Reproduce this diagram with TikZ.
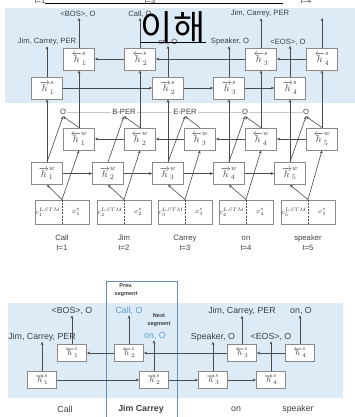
\documentclass[tikz,border=0pt]{standalone}
\usepackage{fontspec}
\setmainfont{Liberation Sans}
\newfontfamily\krfont{Noto Sans CJK KR}
\usetikzlibrary{arrows.meta}
\definecolor{bgblue}{HTML}{DDEBF7}
\definecolor{boxgray}{HTML}{8A8A8A}
\definecolor{linegray}{HTML}{4A4A4A}
\definecolor{txtgray}{HTML}{3F3F3F}
\definecolor{tagline}{HTML}{C8C8C8}
\definecolor{seglabel}{HTML}{5B9BD5}
\definecolor{segframe}{HTML}{6A8FB5}
\begin{document}
\begin{tikzpicture}[x=1pt,y=-1pt,
  bx/.style={draw=boxgray,line width=0.8pt,fill=white,minimum width=31pt,minimum height=22pt,inner sep=0pt,text=txtgray,font=\fontsize{10}{11}\selectfont},
  sbx/.style={bx,minimum width=29pt,minimum height=17pt,font=\fontsize{8}{9}\selectfont},
  inbx/.style={draw=boxgray,line width=0.8pt,fill=white,minimum width=54pt,minimum height=24pt,inner sep=0pt},
  mathsm/.style={inner sep=0pt,text=txtgray,font=\fontsize{7.5}{8}\selectfont},
  lab/.style={font=\fontsize{7.6}{8}\selectfont,text=txtgray,inner sep=0.5pt},
  taglab/.style={lab,fill=white,inner sep=1.5pt},
  wordlab/.style={font=\fontsize{7.7}{10}\selectfont,text=txtgray,align=center,inner sep=0pt},
  blab/.style={font=\fontsize{8.8}{9}\selectfont,text=txtgray,inner sep=0.5pt},
  seglab/.style={font=\bfseries\fontsize{5.6}{8}\selectfont,text=txtgray,align=center,inner sep=0pt},
  ar/.style={draw=linegray,line width=0.6pt,-{Stealth[length=3.2pt,width=2.8pt]}},
  ln/.style={draw=linegray,line width=0.6pt},
]
\useasboundingbox (0,0) rectangle (355,417);
% backgrounds
\fill[bgblue] (5,8) rectangle (355,103);
\fill[bgblue] (8,303) rectangle (343,398);

% ================= top diagram =================
\node[bx] (hsb1) at (79,59) {$\overleftarrow{h}^{s}_{1}$};
\node[bx] (hsb2) at (140,59) {$\overleftarrow{h}^{s}_{2}$};
\node[bx] (hsb3) at (261,59) {$\overleftarrow{h}^{s}_{3}$};
\node[bx] (hsb4) at (322,59) {$\overleftarrow{h}^{s}_{4}$};
\node[bx] (hsf1) at (47,88) {$\overrightarrow{h}^{s}_{1}$};
\node[bx] (hsf2) at (168,88) {$\overrightarrow{h}^{s}_{2}$};
\node[bx] (hsf3) at (229,88) {$\overrightarrow{h}^{s}_{3}$};
\node[bx] (hsf4) at (290,88) {$\overrightarrow{h}^{s}_{4}$};

\node[lab] (lbos) at (78,14) {<BOS>, O};
\node[lab] (lcall) at (140,14) {Call, O};
\node[lab] (ljcp) at (260,14) {Jim, Carrey, PER};
\coordinate (lend) at (322,18);
\node[lab] (ljcp2) at (47,42) {Jim, Carrey, PER};
\node[lab] (lon) at (168,42) {on, O};
\node[lab] (lspk) at (230,42) {Speaker, O};
\node[lab] (leos) at (288,42) {<EOS>, O};

\foreach \i/\x in {1/79,2/140,3/200,4/261,5/322}{
  \node[bx] (hwb\i) at (\x,139) {$\overleftarrow{h}^{w}_{\i}$};
}
\foreach \i/\x in {1/47,2/108,3/168,4/229,5/290}{
  \node[bx] (hwf\i) at (\x,173.5) {$\overrightarrow{h}^{w}_{\i}$};
}
\foreach \i/\x/\w/\t in {1/62/Call/1,2/124/Jim/2,3/185/Carrey/3,4/246/on/4,5/308/speaker/5}{
  \node[inbx] (in\i) at (\x,212) {};
  \draw[ln,dashed,dash pattern=on 2pt off 1.2pt] (in\i.north) -- (in\i.south);
  \node[mathsm,anchor=east] (c\i) at (\x-1,212) {$c_{\i}^{LSTM}$};
  \node[mathsm] (xe\i) at (\x+14,212) {$x_{\i}^{e}$};
  \node[wordlab] (w\i) at (\x,243) {\w\\t=\t};
}
\draw[tagline,line width=0.8pt] (63,112) -- (306,112);
\node[taglab] (tag1) at (63,112) {O};
\node[taglab] (tag2) at (124,112) {B-PER};
\node[taglab] (tag3) at (185,112) {E-PER};
\node[taglab] (tag4) at (245,112) {O};
\node[taglab] (tag5) at (306,112) {O};

\foreach \i in {1,...,5}{
  \draw[ar] (in\i.north) -- (hwf\i.south);
  \draw[ar] (in\i.north) -- (hwb\i.south);
  \draw[ar] (hwf\i.north) -- (tag\i.south);
  \draw[ar] (hwb\i.north) -- (tag\i.south);
}
\foreach \a/\b in {1/2,2/3,3/4,4/5}{
  \draw[ar] (hwf\a.east) -- (hwf\b.west);
  \draw[ar] (hwb\b.west) -- (hwb\a.east);
}
\draw[ar] (hwf1.north) -- (hsf1.south);
\draw[ar] (hwf3.north) -- (hsf2.south);
\draw[ar] (hwf4.north) -- (hsf3.south);
\draw[ar] (hwf5.north) -- (hsf4.south);
\draw[ar] (hwb1.north) -- (hsb1.south);
\draw[ar] (hwb2.north) -- (hsb2.south);
\draw[ar] (hwb4.north) -- (hsb3.south);
\draw[ar] (hwb5.north) -- (hsb4.south);
\foreach \a/\b in {1/2,2/3,3/4}{
  \draw[ar] (hsf\a.east) -- (hsf\b.west);
  \draw[ar] (hsb\b.west) -- (hsb\a.east);
}
\draw[ar] (hsb1.north) -- (hsb1.north |- lbos.south);
\draw[ar] (hsb2.north) -- (hsb2.north |- lcall.south);
\draw[ar] (hsb3.north) -- (hsb3.north |- ljcp.south);
\draw[ar] (hsb4.north) -- (lend);
\draw[ar] (hsf1.north) -- (hsf1.north |- ljcp2.south);
\draw[ar] (hsf2.north) -- (hsf2.north |- lon.south);
\draw[ar] (hsf3.north) -- (hsf3.north |- lspk.south);
\draw[ar] (hsf4.north) -- (hsf4.north |- leos.south);

% ================= bottom diagram =================
\draw[segframe,line width=1pt] (106,281) rectangle (177,420);
\node[seglab] (prev) at (126,290) {Prev.\\segment};
\node[seglab] (next) at (159,320) {Next\\segment};

\node[sbx] (Bsb1) at (72,353) {$\overleftarrow{h}^{s}_{1}$};
\node[sbx] (Bsb2) at (129,353) {$\overleftarrow{h}^{s}_{2}$};
\node[sbx] (Bsb3) at (242,353) {$\overleftarrow{h}^{s}_{3}$};
\node[sbx] (Bsb4) at (300,353) {$\overleftarrow{h}^{s}_{4}$};
\node[sbx] (Bsf1) at (42,380) {$\overrightarrow{h}^{s}_{1}$};
\node[sbx] (Bsf2) at (154,380) {$\overrightarrow{h}^{s}_{2}$};
\node[sbx] (Bsf3) at (213,380) {$\overrightarrow{h}^{s}_{3}$};
\node[sbx] (Bsf4) at (271,380) {$\overrightarrow{h}^{s}_{4}$};

\node[blab] (Blbos) at (72,311) {<BOS>, O};
\node[blab,text=seglabel] (Blcall) at (129,311) {Call, O};
\node[blab] (Bljcp) at (242,311) {Jim, Carrey, PER};
\node[blab] (Blon) at (301,311) {on, O};
\node[blab] (Bljcp2) at (42,337) {Jim, Carrey, PER};
\node[blab,text=seglabel] (Blon2) at (155,336) {on, O};
\node[blab] (Blspk) at (213,337) {Speaker, O};
\node[blab] (Bleos) at (271,337) {<EOS>, O};

\foreach \a/\b in {1/2,2/3,3/4}{
  \draw[ar] (Bsf\a.east) -- (Bsf\b.west);
  \draw[ar] (Bsb\b.west) -- (Bsb\a.east);
}
\draw[ar] (Bsb1.north) -- (Bsb1.north |- Blbos.south);
\draw[ar] (Bsb2.north) -- (Bsb2.north |- Blcall.south);
\draw[ar] (Bsb3.north) -- (Bsb3.north |- Bljcp.south);
\draw[ar] (Bsb4.north) -- (Bsb4.north |- Blon.south);
\draw[ar] (Bsf1.north) -- (Bsf1.north |- Bljcp2.south);
\draw[ar] (Bsf2.north) -- (Bsf2.north |- Blon2.south);
\draw[ar] (Bsf3.north) -- (Bsf3.north |- Blspk.south);
\draw[ar] (Bsf4.north) -- (Bsf4.north |- Bleos.south);

\node[blab] (Bw1) at (65,409) {Call};
\node[blab,font=\bfseries\fontsize{8.8}{9}\selectfont] (Bw2) at (141,409) {Jim Carrey};
\node[blab] (Bw3) at (236,409) {on};
\node[blab] (Bw4) at (298,409) {speaker};

% ================= overlaid heading fragments =================
\node[lab,anchor=south] (f1) at (40,4) {t=1};
\node[lab,anchor=south] (f3) at (150,4) {t=3};
\node[lab,anchor=south] (f4) at (306,4) {t=4};
\draw[black,line width=1pt] (45,4) -- (283,4);
\node[inner sep=0pt,font=\krfont\fontsize{35}{36}\selectfont] (kr) at (173,27) {이해};
\draw[black,line width=1pt] (140,43) -- (206,43);
\end{tikzpicture}
\end{document}
